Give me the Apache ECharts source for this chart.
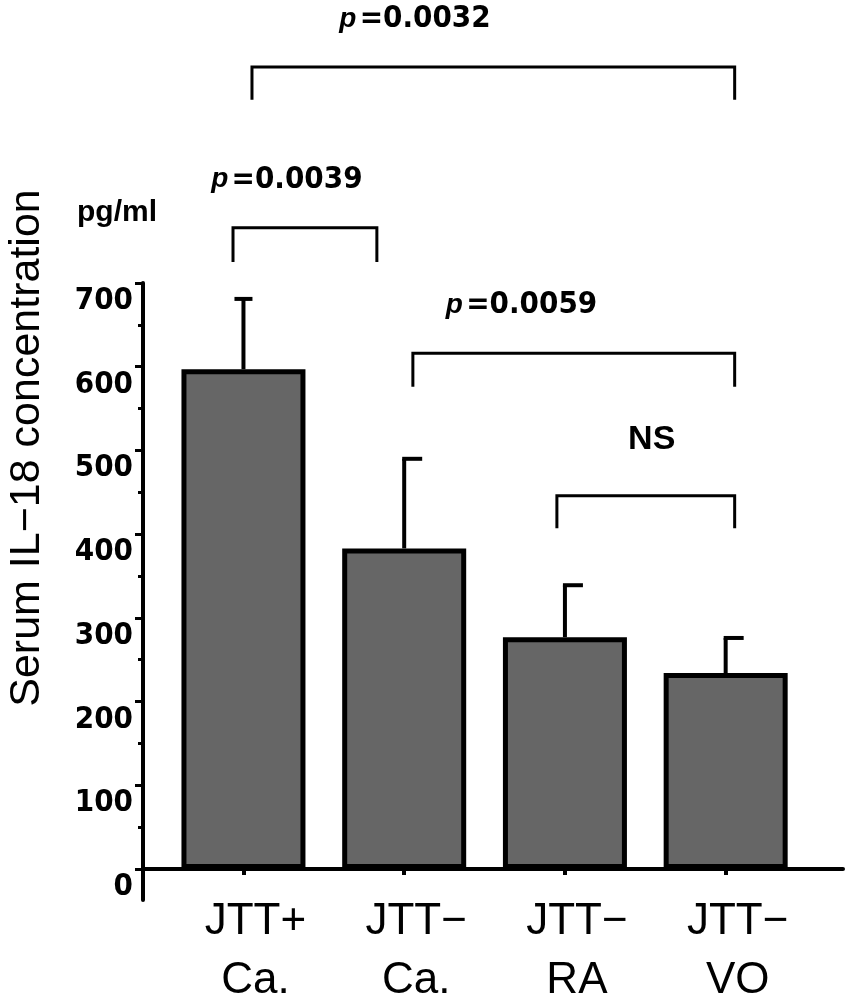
<!DOCTYPE html>
<html>
<head>
<meta charset="utf-8">
<script src="https://cdn.jsdelivr.net/npm/echarts@6/dist/echarts.min.js"></script>
<style>
    html, body { margin: 0; padding: 0; background: #fff; }
    #main { width: 848px; height: 1000px; }
</style>
</head>
<body>
<div id="main"></div>
<script>
// groups and values (pg/ml)
var categories = ['JTT+\nCa.', 'JTT\u2212\nCa.', 'JTT\u2212\nRA', 'JTT\u2212\nVO'];
var meanValues = [597, 383, 277, 234];
var errorTops = [681, 490, 339, 276];
var yTicks = [0, 100, 200, 300, 400, 500, 600, 700];
var yMinorTicks = [50, 150, 250, 350, 450, 550, 650];

// significance brackets (x in group index units, y in pg/ml)
var bracketLabels = ['p =0.0032', 'p =0.0039', 'p =0.0059', 'NS'];
var bracketFrom = [0.053, -0.065, 1.054, 1.95];
var bracketTo = [3.056, 0.83, 3.056, 3.056];
var bracketTop = [958, 766, 616, 446];
var bracketLegEnd = [919, 725, 576, 407];
var bracketLabelX = [1.067, 0.27, 1.73, 2.54];

var narrowFont = '"Liberation Sans Narrow", "DejaVu Sans Condensed", "Liberation Sans", sans-serif';
var plainFont = '"Liberation Sans", Arial, sans-serif';

var myChart = echarts.init(document.getElementById('main'));

var barData = [];
var errData = [];
for (var i = 0; i < meanValues.length; i++) {
    barData.push([i, meanValues[i]]);
    errData.push([i, meanValues[i], errorTops[i]]);
}
var bracketData = [];
for (var j = 0; j < bracketLabels.length; j++) {
    bracketData.push([bracketFrom[j], bracketTo[j], bracketTop[j], bracketLegEnd[j], bracketLabelX[j], j]);
}

function renderError(params, api) {
    var idx = params.dataIndex;
    var base = api.coord([api.value(0), api.value(1)]);
    var top = api.coord([api.value(0), api.value(2)]);
    // first cap is a full T, the others only reach right
    var capL = idx === 0 ? top[0] - 9 : top[0] - 2;
    var capR = idx === 0 ? top[0] + 9 : top[0] + 18;
    return {
        type: 'group',
        children: [
            { type: 'line', shape: { x1: base[0], y1: base[1], x2: top[0], y2: top[1] }, style: { stroke: '#000', lineWidth: 4 } },
            { type: 'line', shape: { x1: capL, y1: top[1], x2: capR, y2: top[1] }, style: { stroke: '#000', lineWidth: 4 } }
        ]
    };
}

function renderBracket(params, api) {
    var idx = api.value(5);
    var a = api.coord([api.value(0), api.value(3)]);
    var b = api.coord([api.value(0), api.value(2)]);
    var c = api.coord([api.value(1), api.value(2)]);
    var d = api.coord([api.value(1), api.value(3)]);
    var t = api.coord([api.value(4), api.value(2)]);
    var lab = bracketLabels[idx];
    var txt;
    if (lab.charAt(0) === 'p') {
        txt = {
            type: 'text', x: t[0], y: t[1] - 48,
            style: {
                text: '{i|p} {n|' + lab.slice(2) + '}',
                align: 'center', verticalAlign: 'middle',
                rich: {
                    i: { fontFamily: plainFont, fontStyle: 'italic', fontWeight: 'bold', fontSize: 28, fill: '#000' },
                    n: { fontFamily: narrowFont, fontWeight: 'bold', fontSize: 31, fill: '#000' }
                }
            }
        };
    } else {
        txt = {
            type: 'text', x: t[0], y: t[1] - 56,
            style: { text: lab, align: 'center', verticalAlign: 'middle', fontFamily: plainFont, fontWeight: 'bold', fontSize: 34, fill: '#000' }
        };
    }
    return {
        type: 'group',
        children: [
            { type: 'polyline', shape: { points: [a, b, c, d] }, style: { stroke: '#000', lineWidth: 3, fill: null } },
            txt
        ]
    };
}

var option = {
    backgroundColor: '#fff',
    animation: false,
    grid: { left: 143, right: 5, top: 283, bottom: 100, outerBoundsMode: 'none', containLabel: false },
    xAxis: {
        type: 'value',
        min: -0.625,
        max: 3.73,
        splitLine: { show: false },
        axisLine: { onZero: true, lineStyle: { color: '#000', width: 4 } },
        axisTick: { show: true, customValues: [0, 1, 2, 3], length: 6, lineStyle: { color: '#000', width: 4 } },
        axisLabel: {
            customValues: [0, 1, 2, 3],
            formatter: function (v) { return categories[Math.round(v)]; },
            fontFamily: plainFont,
            fontSize: 44,
            lineHeight: 59,
            margin: -8,
            padding: [0, 0, 0, 24],
            color: '#000'
        }
    },
    yAxis: [
        {
            type: 'value',
            min: -37,
            max: 700,
            position: 'left',
            splitLine: { show: false },
            axisLine: { onZero: false, lineStyle: { color: '#000', width: 4 } },
            axisTick: { show: true, customValues: yTicks, length: 8, lineStyle: { color: '#000', width: 3 } },
            axisLabel: {
                customValues: yTicks,
                fontFamily: narrowFont,
                fontWeight: 'bold',
                fontSize: 31,
                verticalAlign: 'top',
                lineHeight: 36,
                margin: 10,
                color: '#000'
            }
        },
        {
            type: 'value',
            min: -37,
            max: 700,
            position: 'left',
            splitLine: { show: false },
            axisLine: { show: false, onZero: false },
            axisTick: { show: true, customValues: yMinorTicks, length: 5, lineStyle: { color: '#000', width: 3 } },
            axisLabel: { show: false }
        }
    ],
    graphic: [
        {
            type: 'text', x: 27, y: 448, rotation: Math.PI / 2,
            style: { text: 'Serum IL\u221218 concentration', fontFamily: plainFont, fontSize: 43, fill: '#000', align: 'center', verticalAlign: 'middle' }
        },
        {
            type: 'text', x: 117, y: 213,
            style: { text: 'pg/ml', fontFamily: plainFont, fontWeight: 'bold', fontSize: 30, fill: '#000', align: 'center', verticalAlign: 'middle' }
        }
    ],
    series: [
        {
            type: 'bar',
            data: barData,
            barWidth: 124,
            itemStyle: { color: '#666666', borderColor: '#000', borderWidth: 5 },
            z: 2
        },
        {
            type: 'custom',
            data: errData,
            renderItem: renderError,
            encode: { x: 0, y: [1, 2] },
            clip: false,
            z: 1
        },
        {
            type: 'custom',
            yAxisIndex: 1,
            data: bracketData,
            renderItem: renderBracket,
            encode: { x: [0, 1, 4], y: [2, 3] },
            clip: false,
            z: 3
        }
    ]
};

myChart.setOption(option);
</script>
</body>
</html>
